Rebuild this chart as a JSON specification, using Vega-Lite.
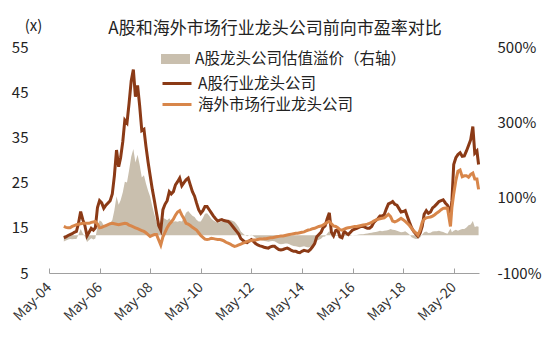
{
  "$schema": "https://vega.github.io/schema/vega-lite/v6.json",
  "width": 430,
  "height": 226,
  "autosize": "none",
  "padding": {"left": 49, "top": 47, "right": 71, "bottom": 78},
  "background": "white",
  "title": {
    "text": "A股和海外市场行业龙头公司前向市盈率对比",
    "fontSize": 17,
    "fontWeight": "normal",
    "font": "Noto Sans CJK SC",
    "color": "#222222",
    "anchor": "middle",
    "dx": 11,
    "dy": 24,
    "offset": 4
  },
  "config": {
    "view": {"stroke": null},
    "font": "Noto Sans CJK SC",
    "axis": {"labelFont": "Noto Sans CJK SC", "titleFont": "Noto Sans CJK SC", "grid": false},
    "legend": {"labelFont": "Noto Sans CJK SC"}
  },
  "data": {
    "values": [
      {"date": "2004-12-01", "A股行业龙头公司": 12.8, "海外市场行业龙头公司": 15.3, "A股龙头公司估值溢价（右轴）": -16.3},
      {"date": "2005-01-01", "A股行业龙头公司": 13.0, "海外市场行业龙头公司": 15.1, "A股龙头公司估值溢价（右轴）": -13.9},
      {"date": "2005-02-01", "A股行业龙头公司": 13.3, "海外市场行业龙头公司": 15.0, "A股龙头公司估值溢价（右轴）": -11.3},
      {"date": "2005-03-01", "A股行业龙头公司": 13.5, "海外市场行业龙头公司": 15.0, "A股龙头公司估值溢价（右轴）": -10},
      {"date": "2005-04-01", "A股行业龙头公司": 13.7, "海外市场行业龙头公司": 15.3, "A股龙头公司估值溢价（右轴）": -10.5},
      {"date": "2005-05-01", "A股行业龙头公司": 14.0, "海外市场行业龙头公司": 15.5, "A股龙头公司估值溢价（右轴）": -9.7},
      {"date": "2005-06-01", "A股行业龙头公司": 14.2, "海外市场行业龙头公司": 15.7, "A股龙头公司估值溢价（右轴）": -9.6},
      {"date": "2005-07-01", "A股行业龙头公司": 16.0, "海外市场行业龙头公司": 15.8, "A股龙头公司估值溢价（右轴）": 1.3},
      {"date": "2005-08-01", "A股行业龙头公司": 18.6, "海外市场行业龙头公司": 15.9, "A股龙头公司估值溢价（右轴）": 17.0},
      {"date": "2005-09-01", "A股行业龙头公司": 16.8, "海外市场行业龙头公司": 16.0, "A股龙头公司估值溢价（右轴）": 5},
      {"date": "2005-10-01", "A股行业龙头公司": 15.5, "海外市场行业龙头公司": 16.0, "A股龙头公司估值溢价（右轴）": -3.1},
      {"date": "2005-11-01", "A股行业龙头公司": 13.2, "海外市场行业龙头公司": 16.0, "A股龙头公司估值溢价（右轴）": -17.5},
      {"date": "2005-12-01", "A股行业龙头公司": 14.0, "海外市场行业龙头公司": 16.0, "A股龙头公司估值溢价（右轴）": -12.5},
      {"date": "2006-01-01", "A股行业龙头公司": 14.9, "海外市场行业龙头公司": 16.2, "A股龙头公司估值溢价（右轴）": -8.0},
      {"date": "2006-02-01", "A股行业龙头公司": 14.5, "海外市场行业龙头公司": 16.3, "A股龙头公司估值溢价（右轴）": -11.0},
      {"date": "2006-03-01", "A股行业龙头公司": 15.0, "海外市场行业龙头公司": 16.4, "A股龙头公司估值溢价（右轴）": -8.5},
      {"date": "2006-04-01", "A股行业龙头公司": 19.5, "海外市场行业龙头公司": 15.8, "A股龙头公司估值溢价（右轴）": 23.4},
      {"date": "2006-05-01", "A股行业龙头公司": 21.0, "海外市场行业龙头公司": 15.0, "A股龙头公司估值溢价（右轴）": 40},
      {"date": "2006-06-01", "A股行业龙头公司": 20.5, "海外市场行业龙头公司": 15.1, "A股龙头公司估值溢价（右轴）": 35.8},
      {"date": "2006-07-01", "A股行业龙头公司": 19.3, "海外市场行业龙头公司": 15.3, "A股龙头公司估值溢价（右轴）": 26.1},
      {"date": "2006-08-01", "A股行业龙头公司": 20.0, "海外市场行业龙头公司": 15.5, "A股龙头公司估值溢价（右轴）": 29.0},
      {"date": "2006-09-01", "A股行业龙头公司": 20.5, "海外市场行业龙头公司": 15.7, "A股龙头公司估值溢价（右轴）": 30.6},
      {"date": "2006-10-01", "A股行业龙头公司": 21.0, "海外市场行业龙头公司": 15.9, "A股龙头公司估值溢价（右轴）": 32.1},
      {"date": "2006-11-01", "A股行业龙头公司": 22.5, "海外市场行业龙头公司": 16.0, "A股龙头公司估值溢价（右轴）": 40.6},
      {"date": "2006-12-01", "A股行业龙头公司": 26.5, "海外市场行业龙头公司": 15.9, "A股龙头公司估值溢价（右轴）": 66.7},
      {"date": "2007-01-01", "A股行业龙头公司": 32.2, "海外市场行业龙头公司": 15.8, "A股龙头公司估值溢价（右轴）": 103.8},
      {"date": "2007-02-01", "A股行业龙头公司": 28.5, "海外市场行业龙头公司": 15.7, "A股龙头公司估值溢价（右轴）": 81.5},
      {"date": "2007-03-01", "A股行业龙头公司": 30.5, "海外市场行业龙头公司": 15.8, "A股龙头公司估值溢价（右轴）": 93.0},
      {"date": "2007-04-01", "A股行业龙头公司": 34.0, "海外市场行业龙头公司": 15.9, "A股龙头公司估值溢价（右轴）": 113.8},
      {"date": "2007-05-01", "A股行业龙头公司": 38.8, "海外市场行业龙头公司": 16.0, "A股龙头公司估值溢价（右轴）": 142.5},
      {"date": "2007-06-01", "A股行业龙头公司": 38.2, "海外市场行业龙头公司": 15.9, "A股龙头公司估值溢价（右轴）": 140.3},
      {"date": "2007-07-01", "A股行业龙头公司": 42.5, "海外市场行业龙头公司": 15.6, "A股龙头公司估值溢价（右轴）": 172.4},
      {"date": "2007-08-01", "A股行业龙头公司": 47.5, "海外市场行业龙头公司": 15.4, "A股龙头公司估值溢价（右轴）": 208.4},
      {"date": "2007-09-01", "A股行业龙头公司": 50.0, "海外市场行业龙头公司": 15.2, "A股龙头公司估值溢价（右轴）": 228.9},
      {"date": "2007-10-01", "A股行业龙头公司": 44.0, "海外市场行业龙头公司": 15.0, "A股龙头公司估值溢价（右轴）": 193.3},
      {"date": "2007-11-01", "A股行业龙头公司": 46.5, "海外市场行业龙头公司": 14.8, "A股龙头公司估值溢价（右轴）": 214.2},
      {"date": "2007-12-01", "A股行业龙头公司": 42.0, "海外市场行业龙头公司": 14.6, "A股龙头公司估值溢价（右轴）": 187.7},
      {"date": "2008-01-01", "A股行业龙头公司": 36.5, "海外市场行业龙头公司": 14.4, "A股龙头公司估值溢价（右轴）": 153.5},
      {"date": "2008-02-01", "A股行业龙头公司": 36.8, "海外市场行业龙头公司": 14.2, "A股龙头公司估值溢价（右轴）": 159.2},
      {"date": "2008-03-01", "A股行业龙头公司": 33.0, "海外市场行业龙头公司": 13.9, "A股龙头公司估值溢价（右轴）": 137.4},
      {"date": "2008-04-01", "A股行业龙头公司": 29.5, "海外市场行业龙头公司": 13.5, "A股龙头公司估值溢价（右轴）": 118.5},
      {"date": "2008-05-01", "A股行业龙头公司": 26.5, "海外市场行业龙头公司": 13.1, "A股龙头公司估值溢价（右轴）": 102.3},
      {"date": "2008-06-01", "A股行业龙头公司": 23.5, "海外市场行业龙头公司": 13.3, "A股龙头公司估值溢价（右轴）": 76.7},
      {"date": "2008-07-01", "A股行业龙头公司": 21.0, "海外市场行业龙头公司": 13.5, "A股龙头公司估值溢价（右轴）": 55.6},
      {"date": "2008-08-01", "A股行业龙头公司": 18.2, "海外市场行业龙头公司": 13.5, "A股龙头公司估值溢价（右轴）": 34.8},
      {"date": "2008-09-01", "A股行业龙头公司": 15.5, "海外市场行业龙头公司": 12.3, "A股龙头公司估值溢价（右轴）": 26.0},
      {"date": "2008-10-01", "A股行业龙头公司": 14.5, "海外市场行业龙头公司": 11.2, "A股龙头公司估值溢价（右轴）": 29.5},
      {"date": "2008-11-01", "A股行业龙头公司": 19.0, "海外市场行业龙头公司": 13.0, "A股龙头公司估值溢价（右轴）": 46.2},
      {"date": "2008-12-01", "A股行业龙头公司": 20.2, "海外市场行业龙头公司": 14.0, "A股龙头公司估值溢价（右轴）": 44.3},
      {"date": "2009-01-01", "A股行业龙头公司": 21.0, "海外市场行业龙头公司": 15.0, "A股龙头公司估值溢价（右轴）": 40},
      {"date": "2009-02-01", "A股行业龙头公司": 23.0, "海外市场行业龙头公司": 15.8, "A股龙头公司估值溢价（右轴）": 45.6},
      {"date": "2009-03-01", "A股行业龙头公司": 22.5, "海外市场行业龙头公司": 16.3, "A股龙头公司估值溢价（右轴）": 38.0},
      {"date": "2009-04-01", "A股行业龙头公司": 23.0, "海外市场行业龙头公司": 16.9, "A股龙头公司估值溢价（右轴）": 36.1},
      {"date": "2009-05-01", "A股行业龙头公司": 24.5, "海外市场行业龙头公司": 17.8, "A股龙头公司估值溢价（右轴）": 37.6},
      {"date": "2009-06-01", "A股行业龙头公司": 25.2, "海外市场行业龙头公司": 18.5, "A股龙头公司估值溢价（右轴）": 36.2},
      {"date": "2009-07-01", "A股行业龙头公司": 26.0, "海外市场行业龙头公司": 18.8, "A股龙头公司估值溢价（右轴）": 38.3},
      {"date": "2009-08-01", "A股行业龙头公司": 24.3, "海外市场行业龙头公司": 17.8, "A股龙头公司估值溢价（右轴）": 36.5},
      {"date": "2009-09-01", "A股行业龙头公司": 25.0, "海外市场行业龙头公司": 17.0, "A股龙头公司估值溢价（右轴）": 47.1},
      {"date": "2009-10-01", "A股行业龙头公司": 25.6, "海外市场行业龙头公司": 16.0, "A股龙头公司估值溢价（右轴）": 60},
      {"date": "2009-11-01", "A股行业龙头公司": 26.0, "海外市场行业龙头公司": 15.8, "A股龙头公司估值溢价（右轴）": 64.6},
      {"date": "2009-12-01", "A股行业龙头公司": 24.5, "海外市场行业龙头公司": 15.5, "A股龙头公司估值溢价（右轴）": 58.1},
      {"date": "2010-01-01", "A股行业龙头公司": 23.0, "海外市场行业龙头公司": 15.1, "A股龙头公司估值溢价（右轴）": 52.3},
      {"date": "2010-02-01", "A股行业龙头公司": 22.0, "海外市场行业龙头公司": 14.8, "A股龙头公司估值溢价（右轴）": 48.6},
      {"date": "2010-03-01", "A股行业龙头公司": 20.5, "海外市场行业龙头公司": 14.5, "A股龙头公司估值溢价（右轴）": 41.4},
      {"date": "2010-04-01", "A股行业龙头公司": 19.0, "海外市场行业龙头公司": 13.9, "A股龙头公司估值溢价（右轴）": 36.7},
      {"date": "2010-05-01", "A股行业龙头公司": 18.2, "海外市场行业龙头公司": 13.3, "A股龙头公司估值溢价（右轴）": 36.8},
      {"date": "2010-06-01", "A股行业龙头公司": 18.8, "海外市场行业龙头公司": 12.9, "A股龙头公司估值溢价（右轴）": 45.7},
      {"date": "2010-07-01", "A股行业龙头公司": 19.7, "海外市场行业龙头公司": 12.5, "A股龙头公司估值溢价（右轴）": 57.6},
      {"date": "2010-08-01", "A股行业龙头公司": 19.7, "海外市场行业龙头公司": 12.4, "A股龙头公司估值溢价（右轴）": 58.9},
      {"date": "2010-09-01", "A股行业龙头公司": 19.0, "海外市场行业龙头公司": 12.5, "A股龙头公司估值溢价（右轴）": 52},
      {"date": "2010-10-01", "A股行业龙头公司": 18.3, "海外市场行业龙头公司": 12.7, "A股龙头公司估值溢价（右轴）": 44.1},
      {"date": "2010-11-01", "A股行业龙头公司": 17.6, "海外市场行业龙头公司": 12.6, "A股龙头公司估值溢价（右轴）": 39.7},
      {"date": "2010-12-01", "A股行业龙头公司": 17.0, "海外市场行业龙头公司": 12.5, "A股龙头公司估值溢价（右轴）": 36},
      {"date": "2011-01-01", "A股行业龙头公司": 16.5, "海外市场行业龙头公司": 12.4, "A股龙头公司估值溢价（右轴）": 33.1},
      {"date": "2011-02-01", "A股行业龙头公司": 16.7, "海外市场行业龙头公司": 12.4, "A股龙头公司估值溢价（右轴）": 34.7},
      {"date": "2011-03-01", "A股行业龙头公司": 16.8, "海外市场行业龙头公司": 12.3, "A股龙头公司估值溢价（右轴）": 36.6},
      {"date": "2011-04-01", "A股行业龙头公司": 16.6, "海外市场行业龙头公司": 12.1, "A股龙头公司估值溢价（右轴）": 37.2},
      {"date": "2011-05-01", "A股行业龙头公司": 16.5, "海外市场行业龙头公司": 11.8, "A股龙头公司估值溢价（右轴）": 39.8},
      {"date": "2011-06-01", "A股行业龙头公司": 16.4, "海外市场行业龙头公司": 11.6, "A股龙头公司估值溢价（右轴）": 41.4},
      {"date": "2011-07-01", "A股行业龙头公司": 16.0, "海外市场行业龙头公司": 11.4, "A股龙头公司估值溢价（右轴）": 40.4},
      {"date": "2011-08-01", "A股行业龙头公司": 15.4, "海外市场行业龙头公司": 11.1, "A股龙头公司估值溢价（右轴）": 38.7},
      {"date": "2011-09-01", "A股行业龙头公司": 14.8, "海外市场行业龙头公司": 10.9, "A股龙头公司估值溢价（右轴）": 35.8},
      {"date": "2011-10-01", "A股行业龙头公司": 14.2, "海外市场行业龙头公司": 11.0, "A股龙头公司估值溢价（右轴）": 29.1},
      {"date": "2011-11-01", "A股行业龙头公司": 13.6, "海外市场行业龙头公司": 11.2, "A股龙头公司估值溢价（右轴）": 21.4},
      {"date": "2011-12-01", "A股行业龙头公司": 12.6, "海外市场行业龙头公司": 11.4, "A股龙头公司估值溢价（右轴）": 10.5},
      {"date": "2012-01-01", "A股行业龙头公司": 12.2, "海外市场行业龙头公司": 11.6, "A股龙头公司估值溢价（右轴）": 5.2},
      {"date": "2012-02-01", "A股行业龙头公司": 11.8, "海外市场行业龙头公司": 11.8, "A股龙头公司估值溢价（右轴）": 0},
      {"date": "2012-03-01", "A股行业龙头公司": 11.7, "海外市场行业龙头公司": 12.0, "A股龙头公司估值溢价（右轴）": -2.5},
      {"date": "2012-04-01", "A股行业龙头公司": 12.1, "海外市场行业龙头公司": 12.1, "A股龙头公司估值溢价（右轴）": 0},
      {"date": "2012-05-01", "A股行业龙头公司": 12.4, "海外市场行业龙头公司": 12.2, "A股龙头公司估值溢价（右轴）": 1.6},
      {"date": "2012-06-01", "A股行业龙头公司": 12.0, "海外市场行业龙头公司": 12.3, "A股龙头公司估值溢价（右轴）": -2.4},
      {"date": "2012-07-01", "A股行业龙头公司": 11.5, "海外市场行业龙头公司": 12.3, "A股龙头公司估值溢价（右轴）": -6.5},
      {"date": "2012-08-01", "A股行业龙头公司": 11.2, "海外市场行业龙头公司": 12.4, "A股龙头公司估值溢价（右轴）": -9.7},
      {"date": "2012-09-01", "A股行业龙头公司": 11.0, "海外市场行业龙头公司": 12.5, "A股龙头公司估值溢价（右轴）": -12},
      {"date": "2012-10-01", "A股行业龙头公司": 10.9, "海外市场行业龙头公司": 12.5, "A股龙头公司估值溢价（右轴）": -12.8},
      {"date": "2012-11-01", "A股行业龙头公司": 10.7, "海外市场行业龙头公司": 12.6, "A股龙头公司估值溢价（右轴）": -15.1},
      {"date": "2012-12-01", "A股行业龙头公司": 10.6, "海外市场行业龙头公司": 12.6, "A股龙头公司估值溢价（右轴）": -15.9},
      {"date": "2013-01-01", "A股行业龙头公司": 10.5, "海外市场行业龙头公司": 12.7, "A股龙头公司估值溢价（右轴）": -17.3},
      {"date": "2013-02-01", "A股行业龙头公司": 10.8, "海外市场行业龙头公司": 12.8, "A股龙头公司估值溢价（右轴）": -15.6},
      {"date": "2013-03-01", "A股行业龙头公司": 10.9, "海外市场行业龙头公司": 12.8, "A股龙头公司估值溢价（右轴）": -14.8},
      {"date": "2013-04-01", "A股行业龙头公司": 10.9, "海外市场行业龙头公司": 12.9, "A股龙头公司估值溢价（右轴）": -15.5},
      {"date": "2013-05-01", "A股行业龙头公司": 10.5, "海外市场行业龙头公司": 13.0, "A股龙头公司估值溢价（右轴）": -19.2},
      {"date": "2013-06-01", "A股行业龙头公司": 10.2, "海外市场行业龙头公司": 13.1, "A股龙头公司估值溢价（右轴）": -22.1},
      {"date": "2013-07-01", "A股行业龙头公司": 10.1, "海外市场行业龙头公司": 13.2, "A股龙头公司估值溢价（右轴）": -23.5},
      {"date": "2013-08-01", "A股行业龙头公司": 10.2, "海外市场行业龙头公司": 13.2, "A股龙头公司估值溢价（右轴）": -22.7},
      {"date": "2013-09-01", "A股行业龙头公司": 10.4, "海外市场行业龙头公司": 13.3, "A股龙头公司估值溢价（右轴）": -21.8},
      {"date": "2013-10-01", "A股行业龙头公司": 10.5, "海外市场行业龙头公司": 13.4, "A股龙头公司估值溢价（右轴）": -21.6},
      {"date": "2013-11-01", "A股行业龙头公司": 10.3, "海外市场行业龙头公司": 13.5, "A股龙头公司估值溢价（右轴）": -23.7},
      {"date": "2013-12-01", "A股行业龙头公司": 10.0, "海外市场行业龙头公司": 13.6, "A股龙头公司估值溢价（右轴）": -26.5},
      {"date": "2014-01-01", "A股行业龙头公司": 9.8, "海外市场行业龙头公司": 13.7, "A股龙头公司估值溢价（右轴）": -28.5},
      {"date": "2014-02-01", "A股行业龙头公司": 9.8, "海外市场行业龙头公司": 13.8, "A股龙头公司估值溢价（右轴）": -29.0},
      {"date": "2014-03-01", "A股行业龙头公司": 9.6, "海外市场行业龙头公司": 13.8, "A股龙头公司估值溢价（右轴）": -30.4},
      {"date": "2014-04-01", "A股行业龙头公司": 9.5, "海外市场行业龙头公司": 13.9, "A股龙头公司估值溢价（右轴）": -31.7},
      {"date": "2014-05-01", "A股行业龙头公司": 9.8, "海外市场行业龙头公司": 14.0, "A股龙头公司估值溢价（右轴）": -30},
      {"date": "2014-06-01", "A股行业龙头公司": 10.0, "海外市场行业龙头公司": 14.1, "A股龙头公司估值溢价（右轴）": -29.1},
      {"date": "2014-07-01", "A股行业龙头公司": 9.9, "海外市场行业龙头公司": 14.3, "A股龙头公司估值溢价（右轴）": -30.8},
      {"date": "2014-08-01", "A股行业龙头公司": 9.8, "海外市场行业龙头公司": 14.5, "A股龙头公司估值溢价（右轴）": -32.4},
      {"date": "2014-09-01", "A股行业龙头公司": 10.2, "海外市场行业龙头公司": 14.6, "A股龙头公司估值溢价（右轴）": -30.1},
      {"date": "2014-10-01", "A股行业龙头公司": 10.8, "海外市场行业龙头公司": 14.8, "A股龙头公司估值溢价（右轴）": -27.0},
      {"date": "2014-11-01", "A股行业龙头公司": 11.5, "海外市场行业龙头公司": 14.9, "A股龙头公司估值溢价（右轴）": -22.8},
      {"date": "2014-12-01", "A股行业龙头公司": 13.0, "海外市场行业龙头公司": 15.1, "A股龙头公司估值溢价（右轴）": -13.9},
      {"date": "2015-01-01", "A股行业龙头公司": 13.5, "海外市场行业龙头公司": 15.3, "A股龙头公司估值溢价（右轴）": -11.8},
      {"date": "2015-02-01", "A股行业龙头公司": 14.0, "海外市场行业龙头公司": 15.4, "A股龙头公司估值溢价（右轴）": -9.1},
      {"date": "2015-03-01", "A股行业龙头公司": 15.0, "海外市场行业龙头公司": 15.6, "A股龙头公司估值溢价（右轴）": -3.8},
      {"date": "2015-04-01", "A股行业龙头公司": 15.4, "海外市场行业龙头公司": 15.9, "A股龙头公司估值溢价（右轴）": -3.1},
      {"date": "2015-05-01", "A股行业龙头公司": 17.0, "海外市场行业龙头公司": 16.2, "A股龙头公司估值溢价（右轴）": 4.9},
      {"date": "2015-06-01", "A股行业龙头公司": 18.3, "海外市场行业龙头公司": 16.4, "A股龙头公司估值溢价（右轴）": 11.6},
      {"date": "2015-07-01", "A股行业龙头公司": 14.0, "海外市场行业龙头公司": 15.9, "A股龙头公司估值溢价（右轴）": -3},
      {"date": "2015-08-01", "A股行业龙头公司": 13.2, "海外市场行业龙头公司": 15.4, "A股龙头公司估值溢价（右轴）": -4},
      {"date": "2015-09-01", "A股行业龙头公司": 14.4, "海外市场行业龙头公司": 15.3, "A股龙头公司估值溢价（右轴）": -1},
      {"date": "2015-10-01", "A股行业龙头公司": 14.5, "海外市场行业龙头公司": 15.0, "A股龙头公司估值溢价（右轴）": -2},
      {"date": "2015-11-01", "A股行业龙头公司": 13.0, "海外市场行业龙头公司": 14.6, "A股龙头公司估值溢价（右轴）": -3},
      {"date": "2015-12-01", "A股行业龙头公司": 12.8, "海外市场行业龙头公司": 14.5, "A股龙头公司估值溢价（右轴）": -4},
      {"date": "2016-01-01", "A股行业龙头公司": 14.2, "海外市场行业龙头公司": 14.7, "A股龙头公司估值溢价（右轴）": -1},
      {"date": "2016-02-01", "A股行业龙头公司": 13.8, "海外市场行业龙头公司": 14.9, "A股龙头公司估值溢价（右轴）": -2},
      {"date": "2016-03-01", "A股行业龙头公司": 13.5, "海外市场行业龙头公司": 15.0, "A股龙头公司估值溢价（右轴）": -2},
      {"date": "2016-04-01", "A股行业龙头公司": 14.0, "海外市场行业龙头公司": 15.1, "A股龙头公司估值溢价（右轴）": -1},
      {"date": "2016-05-01", "A股行业龙头公司": 14.5, "海外市场行业龙头公司": 15.2, "A股龙头公司估值溢价（右轴）": 0},
      {"date": "2016-06-01", "A股行业龙头公司": 14.7, "海外市场行业龙头公司": 15.3, "A股龙头公司估值溢价（右轴）": 1},
      {"date": "2016-07-01", "A股行业龙头公司": 14.9, "海外市场行业龙头公司": 15.3, "A股龙头公司估值溢价（右轴）": 1},
      {"date": "2016-08-01", "A股行业龙头公司": 15.1, "海外市场行业龙头公司": 15.4, "A股龙头公司估值溢价（右轴）": 2},
      {"date": "2016-09-01", "A股行业龙头公司": 15.3, "海外市场行业龙头公司": 15.5, "A股龙头公司估值溢价（右轴）": 3},
      {"date": "2016-10-01", "A股行业龙头公司": 15.3, "海外市场行业龙头公司": 15.6, "A股龙头公司估值溢价（右轴）": 3},
      {"date": "2016-11-01", "A股行业龙头公司": 15.1, "海外市场行业龙头公司": 15.7, "A股龙头公司估值溢价（右轴）": 4},
      {"date": "2016-12-01", "A股行业龙头公司": 14.9, "海外市场行业龙头公司": 15.8, "A股龙头公司估值溢价（右轴）": 5},
      {"date": "2017-01-01", "A股行业龙头公司": 14.9, "海外市场行业龙头公司": 16.0, "A股龙头公司估值溢价（右轴）": 6},
      {"date": "2017-02-01", "A股行业龙头公司": 15.3, "海外市场行业龙头公司": 16.2, "A股龙头公司估值溢价（右轴）": 7},
      {"date": "2017-03-01", "A股行业龙头公司": 16.1, "海外市场行业龙头公司": 16.5, "A股龙头公司估值溢价（右轴）": 8},
      {"date": "2017-04-01", "A股行业龙头公司": 16.6, "海外市场行业龙头公司": 16.7, "A股龙头公司估值溢价（右轴）": 9},
      {"date": "2017-05-01", "A股行业龙头公司": 17.0, "海外市场行业龙头公司": 16.9, "A股龙头公司估值溢价（右轴）": 10},
      {"date": "2017-06-01", "A股行业龙头公司": 17.6, "海外市场行业龙头公司": 17.0, "A股龙头公司估值溢价（右轴）": 12},
      {"date": "2017-07-01", "A股行业龙头公司": 17.6, "海外市场行业龙头公司": 17.1, "A股龙头公司估值溢价（右轴）": 11},
      {"date": "2017-08-01", "A股行业龙头公司": 17.9, "海外市场行业龙头公司": 17.2, "A股龙头公司估值溢价（右轴）": 12},
      {"date": "2017-09-01", "A股行业龙头公司": 19.2, "海外市场行业龙头公司": 17.6, "A股龙头公司估值溢价（右轴）": 13},
      {"date": "2017-10-01", "A股行业龙头公司": 20.3, "海外市场行业龙头公司": 18.0, "A股龙头公司估值溢价（右轴）": 14},
      {"date": "2017-11-01", "A股行业龙头公司": 20.5, "海外市场行业龙头公司": 17.5, "A股龙头公司估值溢价（右轴）": 17},
      {"date": "2017-12-01", "A股行业龙头公司": 20.8, "海外市场行业龙头公司": 16.5, "A股龙头公司估值溢价（右轴）": 15},
      {"date": "2018-01-01", "A股行业龙头公司": 20.2, "海外市场行业龙头公司": 16.3, "A股龙头公司估值溢价（右轴）": 14},
      {"date": "2018-02-01", "A股行业龙头公司": 20.0, "海外市场行业龙头公司": 16.5, "A股龙头公司估值溢价（右轴）": 12},
      {"date": "2018-03-01", "A股行业龙头公司": 19.3, "海外市场行业龙头公司": 16.8, "A股龙头公司估值溢价（右轴）": 10},
      {"date": "2018-04-01", "A股行业龙头公司": 18.5, "海外市场行业龙头公司": 17.1, "A股龙头公司估值溢价（右轴）": 8},
      {"date": "2018-05-01", "A股行业龙头公司": 18.6, "海外市场行业龙头公司": 16.8, "A股龙头公司估值溢价（右轴）": 9},
      {"date": "2018-06-01", "A股行业龙头公司": 18.8, "海外市场行业龙头公司": 16.4, "A股龙头公司估值溢价（右轴）": 11},
      {"date": "2018-07-01", "A股行业龙头公司": 17.5, "海外市场行业龙头公司": 16.0, "A股龙头公司估值溢价（右轴）": 7},
      {"date": "2018-08-01", "A股行业龙头公司": 16.2, "海外市场行业龙头公司": 15.5, "A股龙头公司估值溢价（右轴）": 2},
      {"date": "2018-09-01", "A股行业龙头公司": 15.0, "海外市场行业龙头公司": 14.9, "A股龙头公司估值溢价（右轴）": -5},
      {"date": "2018-10-01", "A股行业龙头公司": 14.2, "海外市场行业龙头公司": 14.3, "A股龙头公司估值溢价（右轴）": -8},
      {"date": "2018-11-01", "A股行业龙头公司": 13.6, "海外市场行业龙头公司": 13.9, "A股龙头公司估值溢价（右轴）": -10},
      {"date": "2018-12-01", "A股行业龙头公司": 13.1, "海外市场行业龙头公司": 13.4, "A股龙头公司估值溢价（右轴）": -9},
      {"date": "2019-01-01", "A股行业龙头公司": 13.8, "海外市场行业龙头公司": 14.5, "A股龙头公司估值溢价（右轴）": -6},
      {"date": "2019-02-01", "A股行业龙头公司": 15.3, "海外市场行业龙头公司": 16.2, "A股龙头公司估值溢价（右轴）": 2},
      {"date": "2019-03-01", "A股行业龙头公司": 18.0, "海外市场行业龙头公司": 16.9, "A股龙头公司估值溢价（右轴）": 8},
      {"date": "2019-04-01", "A股行业龙头公司": 18.8, "海外市场行业龙头公司": 17.2, "A股龙头公司估值溢价（右轴）": 10},
      {"date": "2019-05-01", "A股行业龙头公司": 18.2, "海外市场行业龙头公司": 17.3, "A股龙头公司估值溢价（右轴）": 6},
      {"date": "2019-06-01", "A股行业龙头公司": 18.5, "海外市场行业龙头公司": 17.4, "A股龙头公司估值溢价（右轴）": 7},
      {"date": "2019-07-01", "A股行业龙头公司": 19.4, "海外市场行业龙头公司": 17.6, "A股龙头公司估值溢价（右轴）": 10},
      {"date": "2019-08-01", "A股行业龙头公司": 19.8, "海外市场行业龙头公司": 17.9, "A股龙头公司估值溢价（右轴）": 11},
      {"date": "2019-09-01", "A股行业龙头公司": 20.3, "海外市场行业龙头公司": 18.3, "A股龙头公司估值溢价（右轴）": 11},
      {"date": "2019-10-01", "A股行业龙头公司": 20.8, "海外市场行业龙头公司": 18.6, "A股龙头公司估值溢价（右轴）": 12},
      {"date": "2019-11-01", "A股行业龙头公司": 21.0, "海外市场行业龙头公司": 19.0, "A股龙头公司估值溢价（右轴）": 10},
      {"date": "2019-12-01", "A股行业龙头公司": 21.2, "海外市场行业龙头公司": 19.3, "A股龙头公司估值溢价（右轴）": 9},
      {"date": "2020-01-01", "A股行业龙头公司": 20.5, "海外市场行业龙头公司": 19.4, "A股龙头公司估值溢价（右轴）": 6},
      {"date": "2020-02-01", "A股行业龙头公司": 20.0, "海外市场行业龙头公司": 19.3, "A股龙头公司估值溢价（右轴）": 4},
      {"date": "2020-03-15", "A股行业龙头公司": 18.3, "海外市场行业龙头公司": 15.3, "A股龙头公司估值溢价（右轴）": 18},
      {"date": "2020-04-05", "A股行业龙头公司": 21.0, "海外市场行业龙头公司": 19.5, "A股龙头公司估值溢价（右轴）": 8},
      {"date": "2020-05-01", "A股行业龙头公司": 29.0, "海外市场行业龙头公司": 22.5, "A股龙头公司估值溢价（右轴）": 12},
      {"date": "2020-06-01", "A股行业龙头公司": 30.5, "海外市场行业龙头公司": 25.5, "A股龙头公司估值溢价（右轴）": 15},
      {"date": "2020-07-01", "A股行业龙头公司": 31.2, "海外市场行业龙头公司": 27.5, "A股龙头公司估值溢价（右轴）": 12},
      {"date": "2020-08-01", "A股行业龙头公司": 31.6, "海外市场行业龙头公司": 27.8, "A股龙头公司估值溢价（右轴）": 15},
      {"date": "2020-09-01", "A股行业龙头公司": 30.8, "海外市场行业龙头公司": 26.3, "A股龙头公司估值溢价（右轴）": 17},
      {"date": "2020-10-01", "A股行业龙头公司": 30.9, "海外市场行业龙头公司": 26.5, "A股龙头公司估值溢价（右轴）": 17},
      {"date": "2020-11-01", "A股行业龙头公司": 32.0, "海外市场行业龙头公司": 26.5, "A股龙头公司估值溢价（右轴）": 21},
      {"date": "2020-12-01", "A股行业龙头公司": 33.2, "海外市场行业龙头公司": 26.2, "A股龙头公司估值溢价（右轴）": 27},
      {"date": "2021-01-01", "A股行业龙头公司": 34.5, "海外市场行业龙头公司": 26.8, "A股龙头公司估值溢价（右轴）": 29},
      {"date": "2021-02-01", "A股行业龙头公司": 37.4, "海外市场行业龙头公司": 27.1, "A股龙头公司估值溢价（右轴）": 38},
      {"date": "2021-03-01", "A股行业龙头公司": 31.5, "海外市场行业龙头公司": 25.8, "A股龙头公司估值溢价（右轴）": 22},
      {"date": "2021-04-01", "A股行业龙头公司": 32.0, "海外市场行业龙头公司": 25.8, "A股龙头公司估值溢价（右轴）": 24},
      {"date": "2021-04-25", "A股行业龙头公司": 29.0, "海外市场行业龙头公司": 23.5, "A股龙头公司估值溢价（右轴）": 23}
    ]
  },
  "layer": [
    {
      "transform": [{"fold": ["A股龙头公司估值溢价（右轴）"], "as": ["series", "value"]}],
      "mark": {"type": "area", "interpolate": "linear"},
      "encoding": {
        "x": {
          "field": "date",
          "type": "temporal",
          "scale": {"domain": [{"year": 2004, "month": 5, "date": 1}, {"year": 2021, "month": 5, "date": 1}]},
          "axis": {
            "title": null,
            "values": [
              {"year": 2004, "month": 5, "date": 1},
              {"year": 2006, "month": 5, "date": 1},
              {"year": 2008, "month": 5, "date": 1},
              {"year": 2010, "month": 5, "date": 1},
              {"year": 2012, "month": 5, "date": 1},
              {"year": 2014, "month": 5, "date": 1},
              {"year": 2016, "month": 5, "date": 1},
              {"year": 2018, "month": 5, "date": 1},
              {"year": 2020, "month": 5, "date": 1}
            ],
            "format": "%b-%y",
            "labelAngle": -45,
            "labelAlign": "right",
            "labelBaseline": "middle",
            "labelFontSize": 14,
            "labelColor": "#333333",
            "domainColor": "#a0a0a0",
            "tickColor": "#a0a0a0",
            "tickSize": -5,
            "labelPadding": 17,
            "grid": false
          }
        },
        "y": {
          "field": "value",
          "type": "quantitative",
          "stack": null,
          "scale": {"domain": [-100, 500], "nice": false, "zero": false},
          "axis": {
            "orient": "right",
            "title": null,
            "values": [-100, 100, 300, 500],
            "labelExpr": "datum.value + '%'",
            "domain": false,
            "ticks": false,
            "grid": false,
            "labelFontSize": 15,
            "labelColor": "#222222",
            "labelPadding": 18,
            "labelAlign": "left"
          }
        },
        "fill": {
          "field": "series",
          "type": "nominal",
          "scale": {"domain": ["A股龙头公司估值溢价（右轴）"], "range": ["#c9bfae"]},
          "legend": {
            "orient": "none",
            "legendX": 116.5,
            "legendY": 2,
            "title": null,
            "padding": 0,
            "symbolType": "M-1.45,-0.5H1.45V0.5H-1.45Z",
            "symbolSize": 400,
            "symbolStrokeWidth": 0,
            "labelFontSize": 15.5,
            "labelColor": "#222222",
            "labelOffset": 9.5,
            "labelLimit": 400
          }
        }
      }
    },
    {
      "transform": [{"fold": ["A股行业龙头公司", "海外市场行业龙头公司"], "as": ["series", "value"]}],
      "mark": {"type": "line", "strokeWidth": 3, "interpolate": "linear"},
      "encoding": {
        "x": {"field": "date", "type": "temporal"},
        "y": {
          "field": "value",
          "type": "quantitative",
          "scale": {"domain": [5, 55], "nice": false, "zero": false},
          "axis": {
            "orient": "left",
            "title": "(x)",
            "titleAngle": 0,
            "titleX": -16,
            "titleY": -22,
            "titleAlign": "center",
            "titleBaseline": "middle",
            "titleFontSize": 15,
            "titleFontWeight": "normal",
            "titleColor": "#222222",
            "values": [5, 15, 25, 35, 45, 55],
            "domain": false,
            "ticks": false,
            "grid": false,
            "labelFontSize": 15,
            "labelColor": "#222222",
            "labelPadding": 21
          }
        },
        "stroke": {
          "field": "series",
          "type": "nominal",
          "scale": {"domain": ["A股行业龙头公司", "海外市场行业龙头公司"], "range": ["#8b3a16", "#d8864a"]},
          "legend": {
            "orient": "none",
            "legendX": 116.5,
            "legendY": 25,
            "title": null,
            "padding": 0,
            "rowPadding": 1,
            "symbolType": "M-1.45,0H1.45",
            "symbolSize": 400,
            "symbolStrokeWidth": 3,
            "labelFontSize": 15.5,
            "labelColor": "#222222",
            "labelOffset": 9.5,
            "labelLimit": 400
          }
        }
      }
    }
  ],
  "resolve": {"scale": {"y": "independent"}, "axis": {"y": "independent"}}
}
